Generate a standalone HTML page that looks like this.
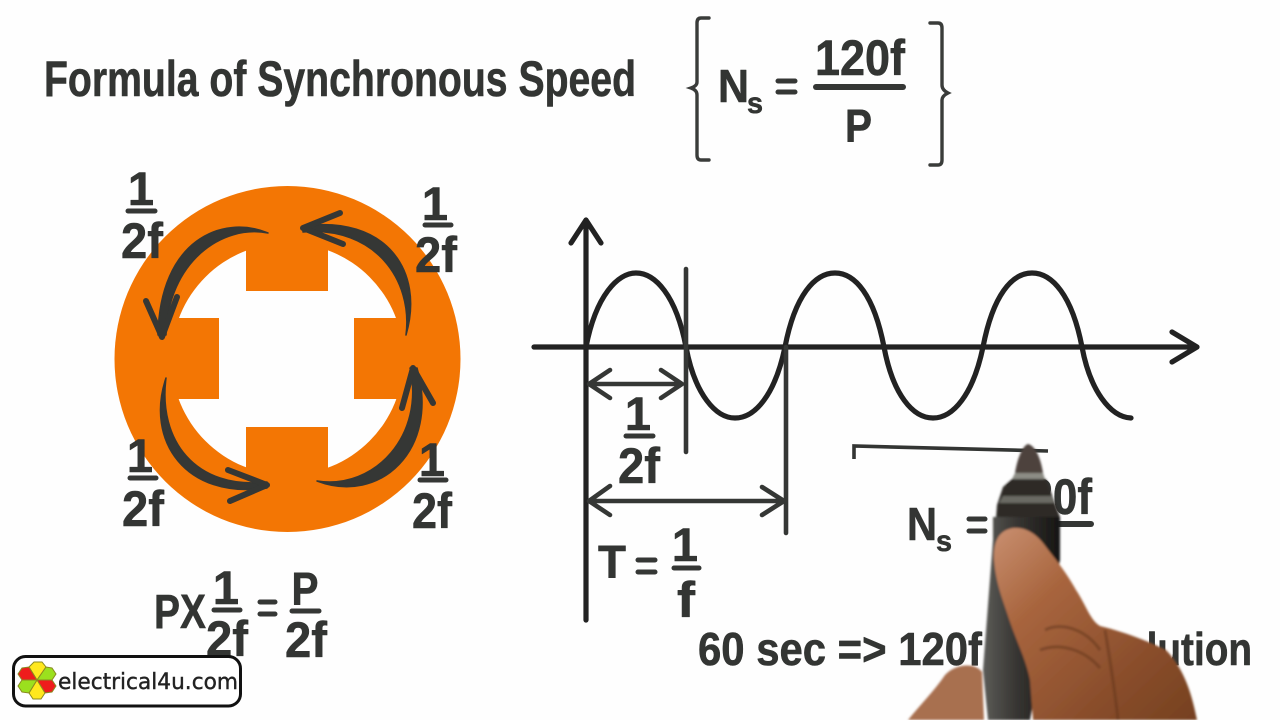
<!DOCTYPE html>
<html><head><meta charset="utf-8"><style>
html,body{margin:0;padding:0;background:#fefefe;width:1280px;height:720px;overflow:hidden}
svg{display:block}
.t{font-family:"Liberation Sans",sans-serif;font-weight:bold;fill:#333533;stroke:#333533;stroke-width:.6;stroke-linejoin:round}
.l{stroke:#222;fill:none;stroke-linecap:round;stroke-linejoin:round}
.a{stroke:#353735;stroke-width:5;fill:none;stroke-linecap:round;stroke-linejoin:round}
.h{stroke:#353735;stroke-width:6;fill:none;stroke-linecap:round;stroke-linejoin:round}
.c{fill:#353735;stroke:#353735;stroke-width:1.5;stroke-linejoin:round}
</style></head><body>
<svg width="1280" height="720" viewBox="0 0 1280 720" xmlns="http://www.w3.org/2000/svg">
<defs>
<linearGradient id="skin" x1="0" y1="0" x2="1" y2="1"><stop offset="0" stop-color="#c98f70"/><stop offset=".3" stop-color="#a8653e"/><stop offset=".7" stop-color="#8a4e2c"/><stop offset="1" stop-color="#75401f"/></linearGradient>
<linearGradient id="pen" x1="0" y1="0" x2="1" y2="0"><stop offset="0" stop-color="#5c5c58"/><stop offset=".45" stop-color="#363431"/><stop offset="1" stop-color="#161513"/></linearGradient>
<filter id="b"><feGaussianBlur stdDeviation="1"/></filter>
</defs>
<rect width="1280" height="720" fill="#fefefe"/>

<text class="t" x="44" y="96" font-size="50" textLength="592" lengthAdjust="spacingAndGlyphs">Formula of Synchronous Speed</text>

<path d="M709 18H701Q697 18 697 23V82Q697 86 691 88Q697 90 697 95V155Q697 160 701 160H709" fill="none" stroke="#3a3c3a" stroke-width="3.4" stroke-linecap="round"/>
<path d="M930 23H938Q942 23 942 28V85Q942 90 948 93Q942 96 942 100V160Q942 165 938 165H930" fill="none" stroke="#3a3c3a" stroke-width="3.4" stroke-linecap="round"/>
<text class="t" x="718" y="102" font-size="46" textLength="31" lengthAdjust="spacingAndGlyphs">N</text>
<text class="t" x="747" y="113" font-size="30" textLength="16" lengthAdjust="spacingAndGlyphs">s</text>
<path class="a" d="M778 81H795M778 92H795"/>
<text class="t" x="815" y="75" font-size="50" textLength="90" lengthAdjust="spacingAndGlyphs">120f</text>
<path class="a" style="stroke-width:6" d="M816 87H903"/>
<text class="t" x="845" y="142" font-size="46" textLength="27" lengthAdjust="spacingAndGlyphs">P</text>

<circle cx="287.5" cy="359" r="173" fill="#f37604"/>
<circle cx="287.5" cy="359" r="116" fill="#fefefe"/>
<rect x="246" y="235" width="82" height="56" fill="#f37604"/>
<rect x="246" y="427" width="82" height="56" fill="#f37604"/>
<rect x="165" y="318" width="54" height="81" fill="#f37604"/>
<rect x="354" y="318" width="54" height="81" fill="#f37604"/>

<path class="c" d="M268 233C222 214 160 240 158 335L166 335C168 262 222 224 268 233Z"/>
<path class="h" d="M146 301L162 337L177 297"/>
<path class="c" d="M406 335C425 270 385 215 303 226L303 232C375 226 413 280 406 335Z"/>
<path class="h" d="M340 213L303 228L343 244"/>
<path class="c" d="M166 378C145 440 185 500 267 488L267 482C195 490 158 440 166 378Z"/>
<path class="h" d="M228 470L267 485L230 501"/>
<path class="c" d="M317 481C380 505 440 450 417 368L410 368C425 435 375 490 317 481Z"/>
<path class="h" d="M402 408L413 368L433 403"/>

<text class="t" x="141" y="205" font-size="47" text-anchor="middle">1</text>
<path class="a" d="M128 211H155"/>
<text class="t" x="142" y="258" font-size="50" text-anchor="middle" textLength="42" lengthAdjust="spacingAndGlyphs">2f</text>
<text class="t" x="435" y="220" font-size="47" text-anchor="middle">1</text>
<path class="a" d="M425 225H451"/>
<text class="t" x="436" y="272" font-size="50" text-anchor="middle" textLength="42" lengthAdjust="spacingAndGlyphs">2f</text>
<text class="t" x="140" y="472" font-size="47" text-anchor="middle">1</text>
<path class="a" d="M130 478H156"/>
<text class="t" x="143" y="526" font-size="50" text-anchor="middle" textLength="42" lengthAdjust="spacingAndGlyphs">2f</text>
<text class="t" x="432" y="476" font-size="47" text-anchor="middle">1</text>
<path class="a" d="M420 480H446"/>
<text class="t" x="432" y="528" font-size="50" text-anchor="middle" textLength="40" lengthAdjust="spacingAndGlyphs">2f</text>

<text class="t" x="154" y="628" font-size="48" textLength="52" lengthAdjust="spacingAndGlyphs">PX</text>
<text class="t" x="226" y="604" font-size="47" text-anchor="middle">1</text>
<path class="a" d="M214 610H240"/>
<text class="t" x="227" y="656" font-size="50" text-anchor="middle" textLength="42" lengthAdjust="spacingAndGlyphs">2f</text>
<path class="a" d="M260 602H275M260 614H275"/>
<text class="t" x="305" y="605" font-size="46" text-anchor="middle" textLength="27" lengthAdjust="spacingAndGlyphs">P</text>
<path class="a" d="M292 611H319"/>
<text class="t" x="306" y="657" font-size="50" text-anchor="middle" textLength="42" lengthAdjust="spacingAndGlyphs">2f</text>

<g class="l" stroke-width="5.2">
<path d="M586 620V220M571 243L586 220L601 243"/>
<path d="M534 347H1196M1172 332L1197 347L1172 362"/>
<path d="M586 347C596 295 618 273 636 273C655 273 676 295 686 347C695 395 716 418 735 418C755 418 775 395 785 347C795 295 815 273 835 273C855 273 874 295 884 347C893 395 913 418 933 418C953 418 973 395 983 347C993 295 1012 273 1032 273C1052 273 1072 295 1082 347C1090 390 1110 417 1131 418"/>
</g>
<g stroke="#353735" fill="none" stroke-width="4.6" stroke-linecap="round" stroke-linejoin="round">
<path d="M686 269V452M786 347V533"/>
<path d="M589 384H682M610 370L589 384L610 398M661 370L682 384L661 398"/>
<path d="M589 501H784M610 486L589 501L610 515M762 487L784 501L762 515"/>
</g>
<text class="t" x="638" y="430" font-size="47" text-anchor="middle">1</text>
<path class="a" d="M626 436H653"/>
<text class="t" x="639" y="483" font-size="50" text-anchor="middle" textLength="42" lengthAdjust="spacingAndGlyphs">2f</text>
<text class="t" x="598" y="578" font-size="46" textLength="28" lengthAdjust="spacingAndGlyphs">T</text>
<path class="a" d="M638 560H655M638 572H655"/>
<text class="t" x="685" y="561" font-size="47" text-anchor="middle">1</text>
<path class="a" d="M674 568H699"/>
<text class="t" x="686" y="617" font-size="50" text-anchor="middle" textLength="18" lengthAdjust="spacingAndGlyphs">f</text>

<path d="M854 459V446L1048 451" fill="none" stroke="#333533" stroke-width="3.6"/>
<text class="t" x="907" y="540" font-size="46" textLength="30" lengthAdjust="spacingAndGlyphs">N</text>
<text class="t" x="936" y="551" font-size="30" textLength="16" lengthAdjust="spacingAndGlyphs">s</text>
<path class="a" d="M969 519H985M969 531H985"/>
<text class="t" x="1004" y="514" font-size="50" textLength="88" lengthAdjust="spacingAndGlyphs">120f</text>
<path class="a" style="stroke-width:6" d="M1006 524H1091"/>

<text class="t" x="698" y="665" font-size="46" textLength="284" lengthAdjust="spacingAndGlyphs">60 sec =&gt; 120f</text>
<text class="t" x="1252" y="665" font-size="46" text-anchor="end" textLength="200" lengthAdjust="spacingAndGlyphs">Revolution</text>

<g filter="url(#b)">
<path d="M1028 444C1022 446 1017 460 1015 473H1043C1041 460 1036 446 1028 444Z" fill="#4d423c"/>
<path d="M1015 473H1043L1045 479H1012Z" fill="#8c8c84"/>
<path d="M1012 479H1046L1052 495L1060 517L1060 560H993L997 505L1003 487Z" fill="#2f2c28"/>
<path d="M1003 496H1052L1054 503H999Z" fill="#6a6a64"/>
<path d="M993 540L983 670L988 720H1030L1060 560V517H993Z" fill="url(#pen)"/>
<path d="M908 720C920 705 935 690 945 675C955 664 975 662 982 672L984 720Z" fill="#a86f4f"/>
<path d="M1013 528C1001 530 993 538 994 560C996 585 1003 600 1010 622C1018 645 1026 660 1030 680L1033 720H1197C1192 695 1185 670 1166 650C1150 642 1125 632 1100 626C1090 620 1086 605 1076 590C1065 570 1052 555 1043 543C1035 533 1025 527 1013 528Z" fill="url(#skin)"/>
<path d="M1045 630C1060 622 1085 628 1100 650M1105 630C1110 660 1115 690 1118 720M1040 650C1060 642 1085 650 1100 668" fill="none" stroke="#5e3119" stroke-width="3" opacity=".5"/>
</g>

<rect x="13.5" y="656.5" width="227" height="49.5" rx="12" fill="#fff" stroke="#111" stroke-width="3"/>
<g stroke="#8a8a20" stroke-width="1">
<path d="M37 680L29 667L34 662H42L46 667Z" fill="#ffe81e"/>
<path d="M37 680L46 667L52 668L56 674L52 680Z" fill="#9be01e"/>
<path d="M37 680H52L56 686L52 692L45 693Z" fill="#ee1c1c"/>
<path d="M37 680L45 693L41 699H33L29 693Z" fill="#ffe81e"/>
<path d="M37 680L29 693L22 692L18 686L22 680Z" fill="#9be01e"/>
<path d="M37 680H22L18 674L22 668L29 667Z" fill="#ee1c1c"/>
</g>
<text x="58" y="689" font-family="'DejaVu Sans',sans-serif" font-size="22" fill="#222" stroke="#222" stroke-width=".4" textLength="180" lengthAdjust="spacingAndGlyphs">electrical4u.com</text>
</svg>
</body></html>
